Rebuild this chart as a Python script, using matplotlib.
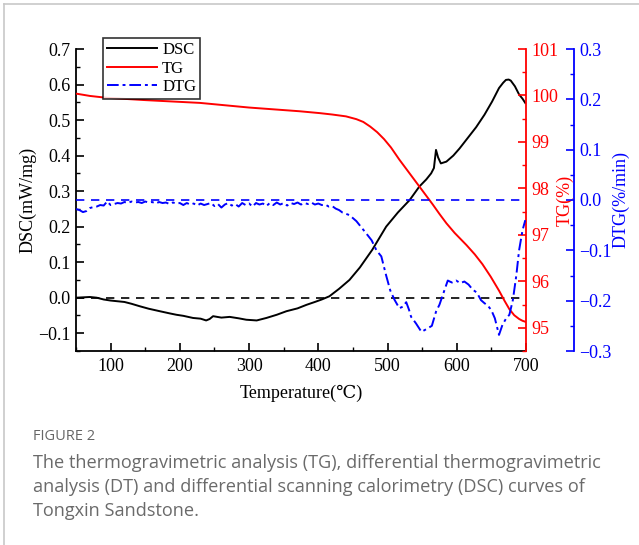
import matplotlib
matplotlib.use("Agg")
import matplotlib.pyplot as plt
from matplotlib.lines import Line2D
from matplotlib.ticker import MultipleLocator

# ---- data ----
dsc_T = [50, 60, 70, 80, 90, 100, 110, 120, 130, 142, 155, 171, 185, 195, 205, 219, 230, 238, 243,
         248, 260, 272, 285, 296, 311, 325, 340, 354, 370, 383, 395, 405, 416, 430, 445, 460, 478,
         498, 515, 532, 546, 556, 563, 567, 570, 573, 577, 585, 595, 604, 616, 628, 640, 651, 661,
         667, 671, 675, 678, 684, 690, 695, 699]
dsc_v = [0.0, 0.001, 0.002, 0.0, -0.005, -0.008, -0.010, -0.012, -0.017, -0.024, -0.031, -0.038,
         -0.044, -0.048, -0.051, -0.057, -0.059, -0.064, -0.060, -0.052, -0.056, -0.054, -0.058,
         -0.062, -0.064, -0.057, -0.048, -0.038, -0.030, -0.020, -0.012, -0.005, 0.004, 0.025,
         0.050, 0.085, 0.135, 0.200, 0.240, 0.275, 0.313, 0.333, 0.350, 0.365, 0.416, 0.395, 0.378,
         0.383, 0.400, 0.420, 0.450, 0.480, 0.515, 0.552, 0.590, 0.605, 0.613, 0.614, 0.611, 0.595,
         0.572, 0.560, 0.548]

tg_T = [50, 70, 94, 150, 229, 300, 373, 402, 420, 440, 455, 465, 475, 485, 495, 505, 517, 529,
        541, 553, 565, 575, 585, 597, 614, 626, 637, 649, 661, 669, 676, 683, 690, 695, 699]
tg_v = [100.04, 99.99, 99.95, 99.90, 99.84, 99.74, 99.66, 99.62, 99.59, 99.55, 99.49, 99.43,
        99.33, 99.21, 99.06, 98.88, 98.62, 98.38, 98.14, 97.90, 97.66, 97.45, 97.25, 97.04, 96.78,
        96.58, 96.37, 96.10, 95.80, 95.58, 95.40, 95.27, 95.19, 95.15, 95.13]

dtg_T = [50, 55, 60, 65, 70, 75, 80, 85, 90, 95, 100, 105, 110, 115, 120, 125, 130, 135, 140, 145,
         150, 155, 160, 165, 170, 175, 180, 185, 190, 195, 200, 205, 210, 215, 220, 225, 230, 235,
         240, 245, 250, 255, 260, 265, 270, 275, 280, 285, 290, 295, 300, 305, 310, 315, 320, 325,
         330, 335, 340, 345, 350, 355, 360, 365, 370, 375, 380, 385, 390, 395, 400, 405, 410, 415,
         420, 425, 430, 435, 445, 455, 469, 477, 484, 491, 498, 504, 510, 517, 522, 527, 531, 534,
         541, 549, 558, 564, 570, 575, 580, 587, 593, 599, 605, 611, 617, 623, 629, 635, 640, 645,
         650, 655, 661, 666, 671, 676, 681, 686, 690, 695, 699]
dtg_v = [-0.018, -0.020, -0.024, -0.022, -0.016, -0.014, -0.013, -0.010, -0.011, -0.003, -0.010,
         -0.008, -0.006, -0.007, -0.004, -0.006, -0.003, -0.005, -0.004, -0.006, -0.003, -0.005,
         -0.004, -0.007, -0.004, -0.006, -0.005, -0.008, -0.005, -0.007, -0.006, -0.010, -0.006,
         -0.009, -0.007, -0.011, -0.007, -0.010, -0.008, -0.006, -0.012, -0.008, -0.015, -0.009,
         -0.006, -0.011, -0.008, -0.013, -0.006, -0.010, -0.007, -0.013, -0.006, -0.009, -0.007,
         -0.012, -0.006, -0.010, -0.005, -0.009, -0.006, -0.011, -0.006, -0.008, -0.005, -0.009,
         -0.006, -0.008, -0.005, -0.009, -0.007, -0.010, -0.009, -0.013, -0.012, -0.017, -0.020,
         -0.025, -0.030, -0.042, -0.066, -0.080, -0.100, -0.112, -0.150, -0.180, -0.198, -0.215,
         -0.212, -0.203, -0.218, -0.232, -0.245, -0.262, -0.255, -0.250, -0.222, -0.208, -0.188,
         -0.160, -0.164, -0.160, -0.165, -0.162, -0.168, -0.178, -0.184, -0.199, -0.205, -0.210,
         -0.219, -0.235, -0.268, -0.248, -0.236, -0.228, -0.199, -0.150, -0.100, -0.060, -0.040]

# ---- figure ----
W, H = 639, 545
fig = plt.figure(figsize=(W / 100, H / 100), dpi=100)
serif = ["Liberation Serif", "DejaVu Serif"]
plt.rcParams["font.family"] = serif

L, R, T, B = 76, 526, 49, 351
ax = fig.add_axes([L / W, 1 - B / H, (R - L) / W, (B - T) / H])
ax2 = ax.twinx()
ax3 = ax.twinx()
ax3.spines["right"].set_position(("axes", (574 - L) / (R - L)))

fs = 13
minus = lambda v, p: f"{v:.1f}".replace("-", "\u2212")
# DSC
l1, = ax.plot(dsc_T, dsc_v, color="black", lw=1.4, label="DSC")
ax.axhline(0, color="black", lw=1.2, ls=(0, (5, 4)))
ax.set_xlim(50, 700)
ax.set_ylim(-0.15, 0.7)
ax.xaxis.set_major_locator(MultipleLocator(100))
ax.xaxis.set_minor_locator(MultipleLocator(50))
ax.yaxis.set_major_locator(MultipleLocator(0.1))
ax.yaxis.set_minor_locator(MultipleLocator(0.05))
ax.set_xlabel("Temperature(℃)", fontsize=fs, labelpad=7)
ax.set_ylabel("DSC(mW/mg)", fontsize=fs, labelpad=1)
ax.yaxis.set_major_formatter(plt.FuncFormatter(minus))

# TG
l2, = ax2.plot(tg_T, tg_v, color="red", lw=1.4, label="TG")
ax2.set_ylim(94.5, 101)
ax2.yaxis.set_major_locator(MultipleLocator(1))
ax2.yaxis.set_minor_locator(MultipleLocator(0.5))
ax2.set_ylabel("TG(%)", color="red", fontsize=fs, labelpad=-2)
ax2.spines["right"].set_color("red")
ax2.tick_params(axis="y", which="both", colors="red")

# DTG
l3, = ax3.plot(dtg_T, dtg_v, color="blue", lw=1.4, ls=(0, (6, 2, 1.5, 2)), label="DTG")
ax3.axhline(0, color="blue", lw=1.2, ls=(0, (5, 4)))
ax3.set_ylim(-0.3, 0.3)
ax3.yaxis.set_major_locator(MultipleLocator(0.1))
ax3.yaxis.set_minor_locator(MultipleLocator(0.05))
ax3.yaxis.set_major_formatter(plt.FuncFormatter(minus))
ax3.set_ylabel("DTG(%/min)", color="blue", fontsize=fs, labelpad=0)
ax3.spines["right"].set_color("blue")
ax3.tick_params(axis="y", which="both", colors="blue")

for a in (ax, ax2, ax3):
    a.spines["top"].set_visible(False)
    for s in a.spines.values():
        s.set_linewidth(1.3)
    a.tick_params(which="major", direction="in", length=6, width=1.2, labelsize=fs)
    a.tick_params(which="minor", direction="in", length=3, width=1.0)
ax2.spines["left"].set_visible(False)
ax3.spines["left"].set_visible(False)
ax2.spines["bottom"].set_visible(False)
ax3.spines["bottom"].set_visible(False)
ax.spines["right"].set_visible(False)
ax.tick_params(axis="x", pad=5)
ax.tick_params(axis="y", pad=4)
ax2.tick_params(axis="y", pad=4)
ax3.tick_params(axis="y", pad=4)

leg = ax3.legend(handles=[l1, l2, l3], loc="upper left",
                 bbox_to_anchor=((103 - L) / (R - L), (B - 38) / (B - T)),
                 borderaxespad=0, fontsize=12, frameon=True, fancybox=False,
                 edgecolor="black", handlelength=3.0, handletextpad=0.3,
                 labelspacing=0.15, borderpad=0.25)
leg.get_frame().set_linewidth(1.2)
leg.set_zorder(10)

# border lines
fig.add_artist(Line2D([4 / W, 4 / W], [0, 1 - 4 / H], transform=fig.transFigure,
                      color="#c8c8c8", lw=1.2))
fig.add_artist(Line2D([4 / W, 1], [1 - 4 / H, 1 - 4 / H], transform=fig.transFigure,
                      color="#c8c8c8", lw=1.2))

# caption
cap_font = ["Open Sans", "DejaVu Sans"]
fig.text(33 / W, 1 - 437 / H, "FIGURE 2", family=cap_font, fontsize=10.5,
         color="#666666", va="center", ha="left")
lines = ["The thermogravimetric analysis (TG), differential thermogravimetric",
         "analysis (DT) and differential scanning calorimetry (DSC) curves of",
         "Tongxin Sandstone."]
for i, t in enumerate(lines):
    fig.text(33 / W, 1 - (463 + 24 * i) / H, t, family=cap_font, fontsize=13.1,
             color="#6a6a6a", va="center", ha="left")

fig.savefig("out.png", dpi=100)
